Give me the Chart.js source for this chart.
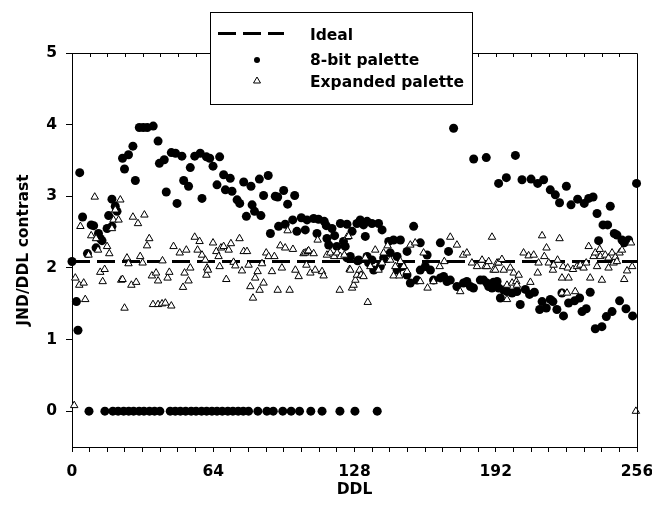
<!DOCTYPE html>
<html>
<head>
<meta charset="utf-8">
<script src="https://cdn.jsdelivr.net/npm/chart.js@4.4.1/dist/chart.umd.min.js"></script>
<style>
    body { margin: 0; background: #fff; }
    canvas { display: block; }
</style>
</head>
<body>
<canvas id="chart-jnd" width="652" height="515"></canvas>
<script>
const idealValue = 2.09;
const xTicks = [0, 64, 128, 192, 256];
const yTicks = [0, 1, 2, 3, 4, 5];

// [DDL, JND/DDL contrast]
const eightBitPalette = [
    [0, 2.09], [2, 1.53], [2.7, 1.13], [3.5, 3.33], [4.8, 2.71], [7, 2.2], [8.7, 2.6], [9.8, 2.59],
    [10.9, 2.28], [12, 2.48], [12.8, 2.41], [13.6, 2.38], [15.9, 2.55], [16.6, 2.73], [18.1, 2.96], [18.1, 2.58],
    [19.6, 2.86], [20.4, 2.79], [22.9, 3.53], [23.8, 3.38], [25.6, 3.58], [27.6, 3.70], [28.7, 3.22], [30.5, 3.96],
    [32.3, 3.96], [34.1, 3.96], [36.8, 3.98], [39, 3.77], [39.6, 3.46], [41.8, 3.51], [42.7, 3.06], [45, 3.61],
    [46.9, 3.60], [47.6, 2.90], [49.8, 3.56], [50.6, 3.22], [52.8, 3.14], [53.6, 3.40], [55.6, 3.56], [58.1, 3.60],
    [58.9, 2.97], [60.9, 3.55], [62.4, 3.53], [63.9, 3.42], [65.7, 3.16], [66.9, 3.55], [68.7, 3.30], [69.5, 3.09],
    [71.7, 3.25], [72.5, 3.07], [74.8, 2.95], [76, 2.90], [77.8, 3.20], [79, 2.72], [81.1, 3.14], [81.6, 2.88],
    [82.7, 2.79], [84.9, 3.24], [85.6, 2.73], [86.8, 3.01], [88.9, 3.29], [89.9, 2.48], [92.1, 3.00], [93.2, 2.99],
    [93.6, 2.58], [95.9, 3.08], [96.6, 2.61], [97.7, 2.89], [100, 2.67], [100.9, 3.01], [101.9, 2.51], [103.9, 2.70],
    [105.7, 2.53], [106.5, 2.67], [109.5, 2.69], [111, 2.48], [111.7, 2.68], [114.3, 2.65], [115.2, 2.59], [115.5, 2.41],
    [116.3, 2.32], [117.8, 2.55], [119, 2.45], [120, 2.30], [121.6, 2.62], [123, 2.37], [123.8, 2.30], [124.6, 2.61],
    [124.6, 2.14], [126.1, 2.16], [126.9, 2.51], [129.1, 2.62], [129.4, 2.10], [129.9, 2.11], [130.6, 2.67], [132.1, 2.60],
    [132.9, 2.44], [133.7, 2.65], [133.7, 2.16], [134.4, 2.07], [135.9, 2.62], [135.9, 2.11], [136.7, 1.97], [138.9, 2.62],
    [139.7, 2.02], [140.5, 2.53], [141.2, 2.14], [143.5, 2.37], [144.2, 2.21], [145.7, 2.39], [147.3, 2.16], [147.3, 1.97],
    [148.8, 2.39], [149.5, 2.02], [151.8, 2.23], [151.8, 1.90], [153.3, 1.79], [154.8, 2.58], [156.3, 1.83], [157.8, 2.35],
    [157.8, 1.97], [160.1, 2.02], [160.9, 2.18], [162.4, 1.97], [163.8, 1.83], [166.9, 2.35], [166.9, 1.86], [168.4, 1.88],
    [169.9, 1.81], [170.6, 2.23], [171.4, 1.83], [172.9, 3.95], [174.4, 1.74], [177.4, 1.79], [178.9, 1.81], [180.5, 1.74],
    [181.9, 1.72], [182, 3.52], [185, 1.83], [186.5, 1.83], [187.7, 3.54], [188, 1.79], [188.8, 1.74], [190.3, 1.72],
    [191, 1.80], [192.6, 1.81], [193.3, 1.72], [193.3, 3.18], [194.1, 1.58], [195.6, 1.69], [196.8, 3.26], [197.1, 1.67],
    [199.4, 1.65], [200.9, 3.57], [201.6, 1.67], [203.1, 1.49], [203.9, 3.23], [205.4, 1.70], [207.3, 1.63], [208, 3.24],
    [209.5, 1.66], [211, 3.18], [211.9, 1.42], [213, 1.53], [213.7, 3.23], [214.9, 1.44], [216.7, 3.09], [216.7, 1.56],
    [217.9, 1.53], [219, 3.02], [219.7, 1.42], [220.9, 2.91], [222, 1.65], [222.7, 1.33], [224, 3.14], [225, 1.51],
    [226.1, 2.88], [227.7, 1.54], [229.1, 2.96], [230, 1.58], [231.1, 1.39], [232.1, 2.90], [233, 1.43], [234.1, 2.97],
    [234.8, 1.66], [236.1, 2.99], [237.1, 1.15], [237.9, 2.76], [238.6, 2.38], [240.1, 1.18], [240.6, 2.60], [242.1, 1.32],
    [242.7, 2.60], [243.9, 2.86], [244.7, 1.39], [245.7, 2.48], [246.9, 2.46], [248.1, 1.54], [249.2, 2.39], [250.2, 2.35],
    [251, 1.43], [252.2, 2.39], [254, 1.33], [255.8, 3.18],
    [7.7, 0], [14.9, 0], [18.5, 0], [20.9, 0], [23.4, 0], [25.7, 0], [27.9, 0], [30.4, 0], [32.6, 0], [35.1, 0],
    [37.4, 0], [39.8, 0], [44.5, 0], [46.8, 0], [49.1, 0], [51.5, 0], [54, 0], [56.2, 0], [58.7, 0], [61, 0],
    [63.4, 0], [65.7, 0], [68.1, 0], [70.6, 0], [72.9, 0], [75.3, 0], [77.6, 0], [80, 0], [84.2, 0], [88.3, 0],
    [91.2, 0], [95.5, 0], [99.3, 0], [103.1, 0], [108.2, 0], [113.3, 0], [121.4, 0], [128.2, 0], [138.3, 0]
];

const expandedPalette = [
    [1, 0.08], [1.5, 1.86], [3.3, 1.76], [3.8, 2.58], [5.3, 1.79], [6, 1.56], [7.5, 2.18], [8.7, 2.45],
    [10.3, 2.99], [10.9, 2.41], [11.8, 2.25], [12.8, 1.94], [13.9, 1.81], [14.8, 1.98], [15.9, 2.30], [16.9, 2.20],
    [18.1, 2.55], [18.8, 2.67], [19.6, 2.81], [21.1, 2.67], [21.9, 2.95], [22.3, 1.83], [22.9, 1.84], [23.8, 1.44],
    [24.9, 2.14], [25.6, 2.06], [26.9, 1.76], [27.6, 2.71], [29.1, 1.80], [29.9, 2.62], [30.9, 2.16], [32, 2.07],
    [32.8, 2.74], [34, 2.31], [35, 2.41], [36.2, 1.89], [36.7, 1.49], [38.1, 1.93], [39, 1.49], [39, 1.82],
    [40.8, 1.50], [41, 2.10], [42.3, 1.51], [43.3, 1.86], [44.1, 1.94], [45, 1.47], [46, 2.30], [48.8, 2.21],
    [50.3, 1.73], [51, 1.93], [51.8, 2.25], [52.8, 1.82], [53.6, 2.00], [55.6, 2.43], [56.9, 2.25], [57.8, 2.37],
    [58.9, 2.18], [60.4, 2.11], [60.9, 1.90], [61.2, 2.0], [61.6, 1.97], [63.9, 2.35], [65.4, 2.23], [66.4, 2.16],
    [66.9, 2.02], [67.5, 2.28], [68.7, 2.30], [69.9, 1.84], [71, 2.25], [72, 2.34], [73.2, 2.08], [74, 2.03],
    [75.9, 2.41], [77, 1.96], [77.8, 2.23], [79.3, 2.23], [80, 2.04], [80.8, 1.74], [82, 1.58], [83, 1.86],
    [84.1, 1.95], [85, 1.69], [86.1, 2.06], [86.8, 1.79], [88, 2.21], [89.1, 2.16], [90.6, 1.95], [91.7, 2.16],
    [93.2, 1.69], [94.4, 2.31], [95.1, 2.0], [96.6, 2.28], [97.7, 2.52], [98.6, 1.69], [100.1, 2.26], [101.2, 1.97],
    [102.7, 1.88], [104.9, 2.20], [105.7, 2.21], [106.2, 2.04], [106.8, 2.23], [107.2, 2.24], [108, 1.93], [109.5, 2.20],
    [110.2, 1.97], [111.3, 2.39], [113.3, 1.95], [114, 1.89], [115.5, 2.18], [117, 2.21], [118.8, 2.16], [120.1, 2.21],
    [121.3, 1.69], [121.6, 2.16], [123.4, 2.18], [124.6, 2.43], [125.3, 2.44], [125.8, 1.98], [126.1, 1.97], [126.9, 1.72],
    [127.6, 1.76], [128.4, 1.83], [129.1, 1.90], [130.3, 1.97], [131, 1.90], [132.1, 1.88], [132.9, 2.14], [134, 1.52],
    [135.2, 2.02], [137.4, 2.25], [138.9, 1.97], [140.5, 2.07], [141.2, 2.21], [143, 2.31], [144.2, 2.11], [145.7, 1.89],
    [146.5, 2.02], [148.3, 1.89], [148.8, 2.09], [150.3, 2.02], [151.8, 1.95], [153.3, 2.32], [155.5, 2.35], [157.8, 1.81],
    [159.3, 2.21], [161.1, 1.72], [163.8, 1.81], [166.6, 2.02], [168.7, 2.09], [171.4, 2.43], [174.4, 2.32], [175.9, 1.67],
    [177.2, 2.18], [178.9, 2.21], [181.2, 2.07], [183.5, 2.02], [185.8, 2.11], [187.3, 2.02], [188, 2.02], [188.8, 2.09],
    [190.3, 2.43], [191, 1.97], [191.8, 1.97], [192.6, 2.07], [193.3, 2.07], [194.8, 2.12], [195.6, 1.97], [197.1, 1.76],
    [197.1, 1.56], [198.6, 2.0], [199.4, 1.79], [200.1, 1.93], [201.3, 1.81], [201.6, 1.76], [202.4, 1.90], [204.6, 2.21],
    [206.9, 2.17], [207.7, 1.80], [209.2, 2.18], [211, 1.93], [211.4, 2.07], [213, 2.45], [214, 2.16], [215, 2.28],
    [216, 2.07], [217.9, 1.97], [218.2, 2.04], [220, 2.11], [220.9, 2.41], [222, 1.86], [222, 1.65], [222.5, 2.02],
    [224.3, 1.65], [224.6, 2.0], [225, 1.86], [227, 1.98], [228, 1.67], [228.8, 2.02], [230.3, 2.04], [231.8, 2.0],
    [233, 2.07], [234.1, 2.30], [234.8, 1.86], [236.3, 2.16], [237.1, 2.21], [237.9, 2.02], [239.1, 2.26], [239.4, 2.16],
    [240.1, 1.83], [241.6, 2.18], [243.1, 2.14], [243.1, 2.0], [244.7, 2.21], [245.4, 2.07], [246.2, 2.15], [246.9, 2.09],
    [248.1, 2.21], [249.2, 2.25], [250.2, 1.84], [251.5, 1.96], [253.3, 2.35], [253.8, 2.02], [255.5, 0]
];

const fontFamily = "'DejaVu Sans', sans-serif";
const fontSize = 15.5;

function toPoints(list) {
    return list.map(entry => ({x: entry[0], y: entry[1]}));
}

// frame, top ticks and the legend box
const framePlugin = {
    id: 'frame',
    afterDraw(chart) {
        const ctx = chart.ctx;
        const area = chart.chartArea;
        const xScale = chart.scales.x;
        ctx.save();
        ctx.strokeStyle = '#000';
        ctx.lineWidth = 1;
        ctx.beginPath();
        ctx.moveTo(area.left, area.top + 0.5);
        ctx.lineTo(area.right + 0.5, area.top + 0.5);
        ctx.lineTo(area.right + 0.5, area.bottom);
        for (let v = 8; v < 256; v += 8) {
            const px = Math.round(xScale.getPixelForValue(v)) + 0.5;
            ctx.moveTo(px, area.top);
            ctx.lineTo(px, area.top + 4);
        }
        ctx.stroke();

        // legend
        const box = {x: 210, y: 12, w: 262, h: 92};
        ctx.fillStyle = '#fff';
        ctx.fillRect(box.x, box.y, box.w, box.h);
        ctx.strokeRect(box.x + 0.5, box.y + 0.5, box.w, box.h);

        ctx.beginPath();
        ctx.lineWidth = 3;
        ctx.setLineDash([18, 7]);
        ctx.moveTo(218, 33.5);
        ctx.lineTo(284, 33.5);
        ctx.stroke();
        ctx.setLineDash([]);

        ctx.beginPath();
        ctx.fillStyle = '#000';
        ctx.arc(257, 60, 3, 0, Math.PI * 2);
        ctx.fill();

        ctx.beginPath();
        ctx.lineWidth = 1;
        ctx.moveTo(257, 77);
        ctx.lineTo(260.5, 83);
        ctx.lineTo(253.5, 83);
        ctx.closePath();
        ctx.fillStyle = '#fff';
        ctx.fill();
        ctx.stroke();

        ctx.fillStyle = '#000';
        ctx.font = 'bold ' + fontSize + 'px ' + fontFamily;
        ctx.textAlign = 'left';
        ctx.textBaseline = 'alphabetic';
        ctx.fillText('Ideal', 310, 39.5);
        ctx.fillText('8-bit palette', 310, 64.5);
        ctx.fillText('Expanded palette', 310, 86.5);
        ctx.restore();
    }
};

const labelFont = {family: fontFamily, size: fontSize, weight: 'bold'};

const chartJnd = new Chart(document.getElementById('chart-jnd'), {
    type: 'scatter',
    data: {
        datasets: [
            {
                label: 'Expanded palette',
                data: toPoints(expandedPalette),
                pointStyle: 'triangle',
                pointRadius: 4.3,
                pointHoverRadius: 4.3,
                backgroundColor: '#fff',
                borderColor: '#000',
                borderWidth: 1,
                clip: false,
                order: 0
            },
            {
                label: '8-bit palette',
                data: toPoints(eightBitPalette),
                pointStyle: 'circle',
                pointRadius: 4.5,
                pointHoverRadius: 4.5,
                backgroundColor: '#000',
                borderColor: '#000',
                borderWidth: 0,
                clip: false,
                order: 1
            },
            {
                type: 'line',
                label: 'Ideal',
                data: [{x: 0, y: idealValue}, {x: 256, y: idealValue}],
                borderColor: '#000',
                borderWidth: 3,
                borderDash: [18, 7],
                pointRadius: 0,
                fill: false,
                order: 2
            }
        ]
    },
    options: {
        responsive: false,
        animation: false,
        devicePixelRatio: 1,
        layout: {padding: {left: 0, right: 15, top: 53, bottom: 0}},
        plugins: {
            legend: {display: false},
            tooltip: {enabled: false}
        },
        scales: {
            x: {
                type: 'linear',
                min: 0,
                max: 256,
                afterFit: scale => {
                    scale.height = 68;
                    scale.paddingLeft = 0;
                    scale.paddingRight = 0;
                },
                afterBuildTicks: scale => {
                    const ticks = [];
                    for (let v = 0; v <= 256; v += 8) ticks.push({value: v});
                    scale.ticks = ticks;
                },
                grid: {display: true, drawOnChartArea: false, drawTicks: true, tickLength: 5, color: '#000'},
                border: {display: true, color: '#000', width: 1},
                ticks: {
                    autoSkip: false,
                    maxRotation: 0,
                    padding: 11,
                    color: '#000',
                    font: labelFont,
                    callback: value => xTicks.includes(value) ? value : ''
                },
                title: {
                    display: true,
                    text: 'DDL',
                    color: '#000',
                    font: labelFont,
                    padding: {top: 0, bottom: 16}
                }
            },
            y: {
                type: 'linear',
                min: -0.5,
                max: 5,
                afterFit: scale => {
                    scale.width = 72;
                    scale.paddingTop = 0;
                    scale.paddingBottom = 0;
                },
                afterBuildTicks: scale => {
                    scale.ticks = yTicks.map(v => ({value: v}));
                },
                grid: {display: true, drawOnChartArea: false, drawTicks: true, tickLength: 6, color: '#000'},
                border: {display: true, color: '#000', width: 1},
                ticks: {
                    padding: 9,
                    color: '#000',
                    font: labelFont
                },
                title: {
                    display: true,
                    text: 'JND/DDL contrast',
                    color: '#000',
                    font: labelFont,
                    padding: {top: 15, bottom: 0}
                }
            }
        }
    },
    plugins: [framePlugin]
});
</script>
</body>
</html>
